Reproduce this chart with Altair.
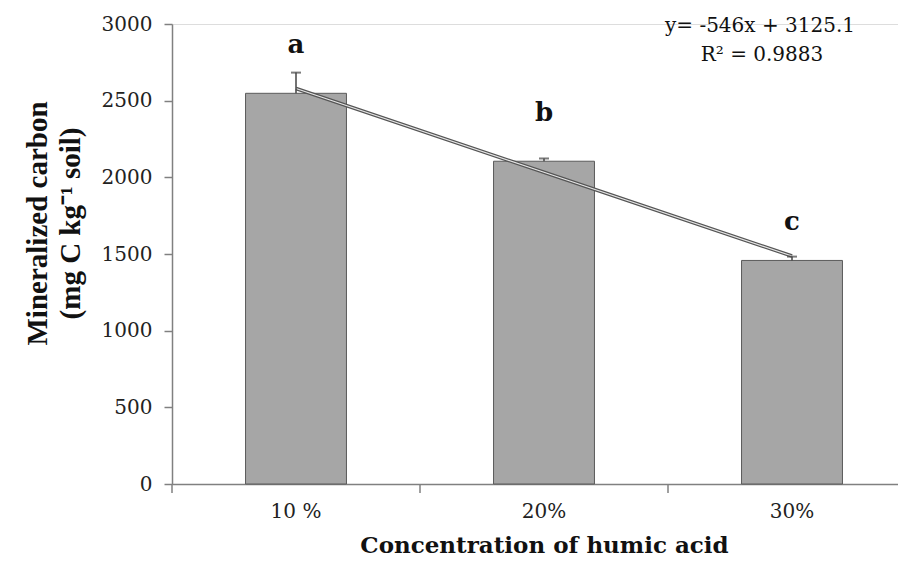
import altair as alt
import pandas as pd

categories = ["10 %", "20%", "30%"]
values = [2548, 2105, 1458]
errors = [135, 18, 25]
letters = ["a", "b", "c"]
letter_y = [2863, 2420, 1709]
slope = -546
intercept = 3125.1
eq_line1 = "y= -546x + 3125.1"
eq_line2 = "R\u00b2 = 0.9883"

df = pd.DataFrame({
    "cat": categories,
    "value": values,
    "top": [v + e for v, e in zip(values, errors)],
    "letter": letters,
    "ly": letter_y,
    "trend": [intercept + slope * (i + 1) for i in range(len(categories))],
})

xscale = alt.Scale(domain=categories, range=[0, 744], paddingInner=0, paddingOuter=0)
yscale = alt.Scale(domain=[0, 3000])

x_axis = alt.Axis(
    title="Concentration of humic acid", ticks=False, labelAngle=0, grid=False,
    labelFont="DejaVu Serif", labelFontSize=20, labelColor="#222", labelPadding=17,
    titleFont="DejaVu Serif", titleFontSize=23, titleFontWeight="bold", titleColor="#111",
    titlePadding=13, domainColor="#808080", domainWidth=1.5,
)
Y_TITLE = ["Mineralized carbon", "(mg C kg\u207b\u00b9 soil)"]
y_axis = alt.Axis(
    title=Y_TITLE, values=[0, 500, 1000, 1500, 2000, 2500, 3000], format="d",
    grid=False, tickSize=8, tickColor="#808080", tickWidth=1.5, domainColor="#808080", domainWidth=1.5,
    labelFont="DejaVu Serif", labelFontSize=20, labelColor="#222", labelPadding=12,
    titleFont="Liberation Serif", titleFontSize=29, titleFontWeight="bold", titleColor="#111",
    titleLineHeight=33, titleX=-135, titleY=199, titleBaseline="middle",
)


def X(**kw):
    return alt.X("cat:N", sort=categories, scale=xscale, axis=x_axis, title="Concentration of humic acid", **kw)


def Y(field):
    return alt.Y(field, scale=yscale, axis=y_axis, title=Y_TITLE)


base = alt.Chart(df)

bars = base.mark_bar(width=alt.RelativeBandSize(0.407), color="#a6a6a6", stroke="#5a5a5a", strokeWidth=1).encode(
    x=X(), y=Y("value:Q"),
)

xticks = base.mark_rule(color="#808080", strokeWidth=1.5).encode(
    x=X(bandPosition=0),
    y=alt.value(460), y2=alt.value(469),
)

err = base.mark_rule(color="#444", strokeWidth=1.5).encode(
    x=X(), y=Y("value:Q"), y2="top:Q",
)
caps = base.mark_tick(color="#444", thickness=2, size=10).encode(
    x=X(), y=Y("top:Q"),
)

trend_outer = base.mark_line(color="#555", strokeWidth=3.6).encode(
    x=X(), y=Y("trend:Q"),
)
trend_inner = base.mark_line(color="#e6e6e6", strokeWidth=1.2).encode(
    x=X(), y=Y("trend:Q"),
)

labels = base.mark_text(font="DejaVu Serif", fontSize=26, fontWeight="bold", color="#111", baseline="middle").encode(
    x=X(), y=Y("ly:Q"), text="letter:N",
)

eq1 = alt.Chart(pd.DataFrame({"t": [eq_line1]})).mark_text(
    font="DejaVu Serif", fontSize=20, color="#111", align="center", baseline="middle"
).encode(x=alt.value(588), y=alt.value(2), text="t:N")
eq2 = alt.Chart(pd.DataFrame({"t": [eq_line2]})).mark_text(
    font="DejaVu Serif", fontSize=20, color="#111", align="center", baseline="middle"
).encode(x=alt.value(590), y=alt.value(31), text="t:N")

chart = alt.layer(bars, xticks, trend_outer, trend_inner, err, caps, labels, eq1, eq2).properties(
    width=726, height=460,
    autosize=alt.AutoSizeParams(type="none"),
    padding={"left": 164, "top": 16, "right": 0, "bottom": 75},
).configure_view(stroke=None).configure_axis(grid=False).configure(background="white")

chart.save("out.html", embed_options={"renderer": "svg", "actions": False})
